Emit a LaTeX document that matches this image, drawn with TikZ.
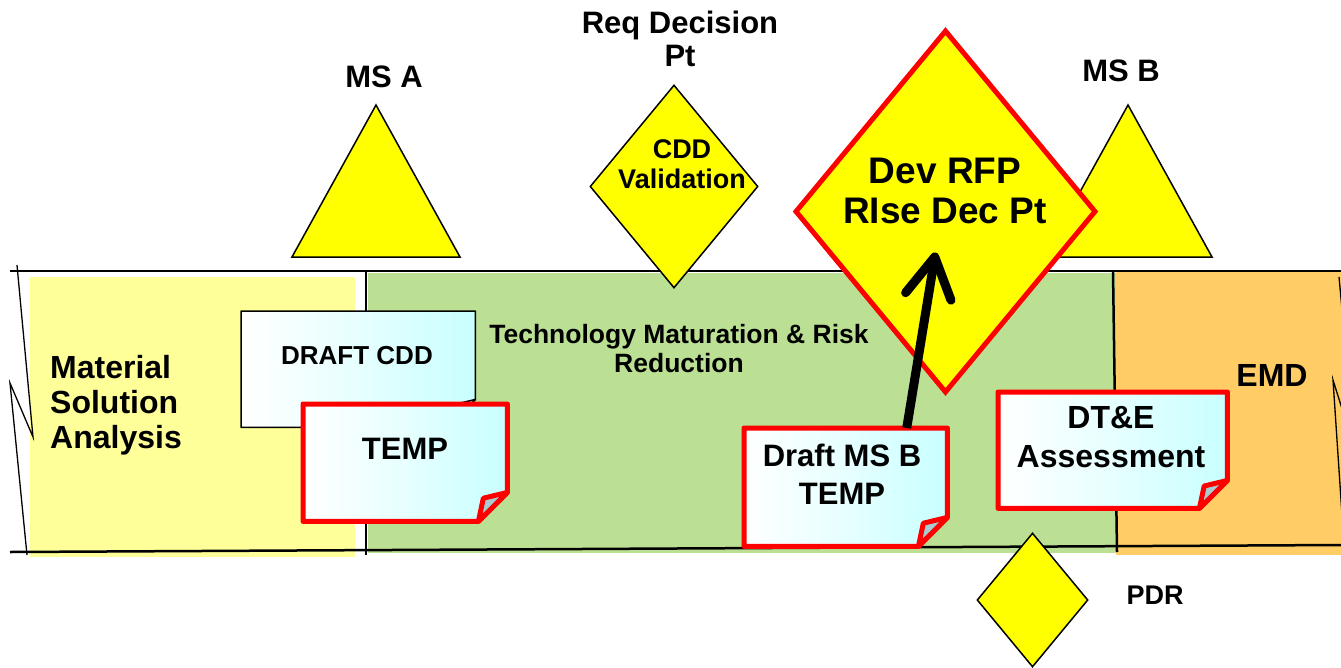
\documentclass[tikz,border=0pt]{standalone}
\usepackage{fontspec}
\setmainfont{Liberation Sans}
\usetikzlibrary{arrows.meta,calc,shapes.geometric}

\definecolor{msayellow}{RGB}{255,255,153}
\definecolor{tmrgreen}{RGB}{187,224,148}
\definecolor{emdorange}{RGB}{255,204,102}
\definecolor{gateyellow}{RGB}{255,255,0}
\definecolor{notecyan}{RGB}{200,255,255}
\definecolor{flapblue}{RGB}{168,204,210}

\tikzset{
  band/.style={line width=2.5pt},
  breakline/.style={line width=1.3pt, line join=miter},
  gate/.style={fill=gateyellow, draw=black, line width=1.5pt, line join=miter, inner sep=0pt},
  keygate/.style={fill=gateyellow, draw=red, line width=5pt, line join=miter, inner sep=0pt},
  lbl/.style args={#1/#2}{font=\bfseries\fontsize{#1}{#2}\selectfont, align=center, inner sep=0pt},
  notebody/.style={inner sep=0pt, anchor=north west},
  plainedge/.style={draw=black, line width=1.5pt, line join=round},
  rededge/.style={draw=red, line width=5pt, line join=round},
  notefill/.style={left color=white, right color=notecyan, middle color=white!55!notecyan},
  bigarrow/.style={line width=9pt, -{Straight Barb[length=40pt, width=46pt, round]}},
}

% a sheet of paper with a curled lower right corner, drawn over a placeholder node
\newcommand\foldednote[3]{%
  \shade[notefill] (#1.north west) -- (#1.north east) -- ($(#1.south east)+(0,-#3)$)
     -- ($(#1.south east)+(-#3,0)$) -- (#1.south west) -- cycle;
  \draw[#2] (#1.north west) -- (#1.north east) -- ($(#1.south east)+(0,-#3)$)
     -- ($(#1.south east)+(-#3,0)$) -- (#1.south west) -- cycle;
  \filldraw[#2, fill=flapblue] ($(#1.south east)+(0,-#3)$) -- ($(#1.south east)+(-0.83*#3,-0.8*#3)$)
     -- ($(#1.south east)+(-#3,0)$) -- cycle;
}

\begin{document}
\begin{tikzpicture}[x=1pt,y=-1pt]
\useasboundingbox (0,0) rectangle (1341,667);

% phase backgrounds
\fill[msayellow] (30,277) rectangle (355,557);
\fill[tmrgreen] (368,273) rectangle (1116,553);
\fill[emdorange] (1116,272) rectangle (1341,555);

% phase band outline and break marks
\draw[band] (10,271) -- (1341,271);
\draw[band] (10,552) -- (1341,545);
\draw[band] (366,271) -- (366,555);
\draw[band] (1113,271) -- (1117,552);
\draw[breakline] (17,265) -- (33,437) -- (10,383) -- (27,555);
\draw[breakline] (1339,277) -- (1355,450) -- (1333,380) -- (1345,560);

% milestones A and B
\draw[gate] (292,257) -- (376,105) -- (460,257) -- cycle;
\draw[gate] (1044,257) -- (1128,105) -- (1212,257) -- cycle;
\node[lbl=31/34] (msa) at (384,77) {MS A};
\node[lbl=31/34] (msb) at (1121,71) {MS B};

% requirements decision point
\node[lbl=31/33] (reqdec) at (680,39) {Req Decision\\Pt};
\node[diamond, gate, minimum width=168pt, minimum height=203pt] (cdd) at (674,186.5) {};
\node[lbl=27/30] (cddtext) at (682,164) {CDD\\Validation};

% phase names
\node[lbl=32/35, align=left, anchor=west] (msaname) at (50,405) {Material\\Solution\\Analysis};
\node[lbl=26.5/29] (tmrname) at (679,349) {Technology Maturation \& Risk\\Reduction};
\node[lbl=32/34] (emdname) at (1272,375) {EMD};

% documents in the MSA / TMRR phases
\node[notebody, minimum width=234pt, minimum height=116pt] (draftcdd) at (241,311) {};
\foldednote{draftcdd}{plainedge}{28}
\node[lbl=26/29] (draftcddtext) at (357,356) {DRAFT CDD};

\node[notebody, minimum width=204pt, minimum height=117pt] (temp) at (303,404) {};
\foldednote{temp}{rededge}{29}
\node[lbl=31/34] (temptext) at (405,449) {TEMP};

% development RFP release decision point
\node[diamond, keygate, minimum width=301pt, minimum height=363pt] (rfp) at (945.5,211.5) {};
\node[lbl=37/40] (rfptext) at (945,190.5) {Dev RFP\\RIse Dec Pt};
\coordinate (rfptip) at ($(rfp.center)+(-10,41)$);

\node[notebody, minimum width=203pt, minimum height=118pt] (draftmsb) at (744,428) {};
\foldednote{draftmsb}{rededge}{29}
\node[lbl=31/38] (draftmsbtext) at (842,474) {Draft MS B\\TEMP};

\node[notebody, minimum width=229pt, minimum height=116pt] (dte) at (998,392) {};
\foldednote{dte}{rededge}{28}
\node[lbl=32/39] (dtetext) at (1111,437) {DT\&E\\Assessment};

\coordinate (msbstart) at ($(draftmsb.north west)!0.8!(draftmsb.north east)$);
\draw[bigarrow] (msbstart) -- (rfptip);

% preliminary design review
\node[diamond, gate, minimum width=111pt, minimum height=134pt] (pdr) at (1032.5,600) {};
\node[lbl=27/30] (pdrtext) at (1155,595) {PDR};
\end{tikzpicture}
\end{document}
